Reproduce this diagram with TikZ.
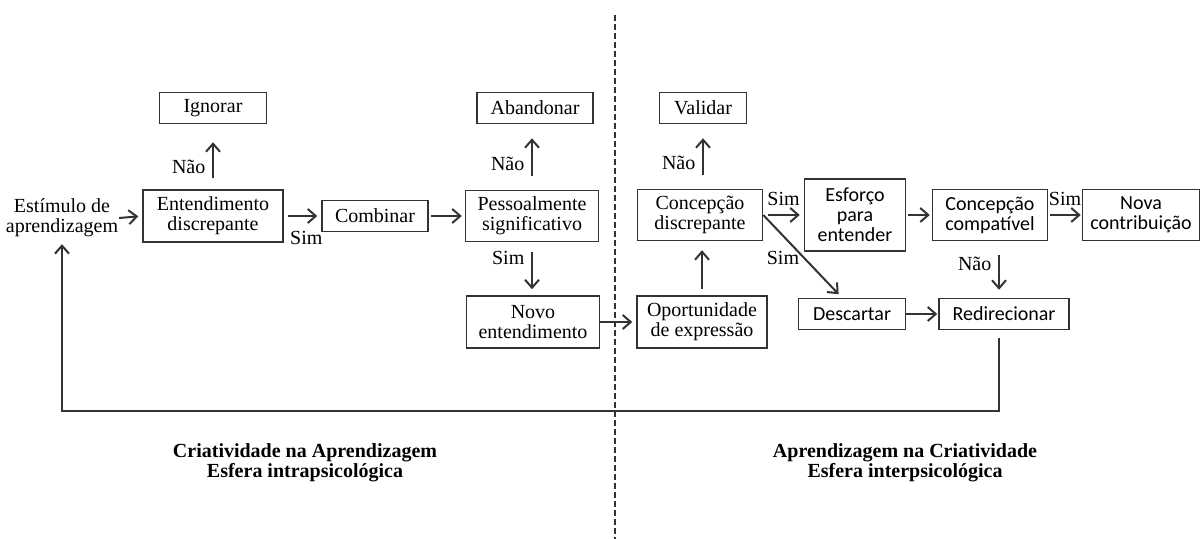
\documentclass[tikz,border=0pt]{standalone}
\usepackage{fontspec}
\setmainfont{Liberation Serif}
\newfontfamily\calfont{Carlito}
\usetikzlibrary{arrows.meta,positioning}
\definecolor{cB}{HTML}{333333}
\tikzset{
  sz/.style 2 args={minimum width=#1,minimum height=#2},
  box/.style={draw=cB,line width=.75pt,inner sep=0pt,align=center,
              font=\fontsize{10}{10}\selectfont},
  sbox/.style={box,font=\calfont\fontsize{10}{10}\selectfont},
  flow/.style={-{Straight Barb[length=4pt,width=7pt,line width=1pt]},
              line width=1pt,cB},
  lab/.style={font=\fontsize{10}{10}\selectfont,text=black,align=center},
  sphere/.style={font=\bfseries\fontsize{10}{10}\selectfont,align=center},
}

\begin{document}
\begin{tikzpicture}[x=0.5pt,y=-0.5pt]
  \useasboundingbox (0,0) rectangle (1202,539);
  % intrapsychological side
  \node[lab] (stim) at (62,218) {Estímulo de\\aprendizagem};
  \node[box,sz={70pt}{26pt}] (ent) at (213,216) {Entendimento\\discrepante};
  \node[box,sz={53.5pt}{15.5pt}] (ign) at (213,108) {Ignorar};
  \node[box,sz={53pt}{15.5pt}] (comb) at (375,216) {Combinar};
  \node[box,sz={66.5pt}{25.5pt}] (pess) at (532,216) {Pessoalmente\\significativo};
  \node[box,sz={58pt}{15.5pt}] (aban) at (535,108) {Abandonar};
  \node[box,sz={66.5pt}{26pt}] (novo) at (533,322) {Novo\\entendimento};
  % interpsychological side
  \node[box,sz={43.5pt}{15.5pt}] (val) at (703,108) {Validar};
  \node[box,sz={62.5pt}{25.5pt}] (cdis) at (700,215) {Concepção\\discrepante};
  \node[box,sz={65pt}{26pt}] (oport) at (702,322) {Oportunidade\\de expressão};
  \node[sbox,sz={50.5pt}{36pt}] (esf) at (855,215) {Esforço\\para\\entender};
  \node[sbox,sz={57.5pt}{25.5pt}] (ccomp) at (990,215) {Concepção\\compatível};
  \node[sbox,sz={58.5pt}{25.5pt}] (nova) at (1141,215) {Nova\\contribuição};
  \node[sbox,sz={53.5pt}{15.5pt}] (desc) at (852,314) {Descartar};
  \node[sbox,sz={65pt}{15.5pt}] (redir) at (1004,314) {Redirecionar};

  \draw[flow,shorten >=2pt] ([xshift=-3pt]stim.east) -- (ent.west);
  \draw[flow,shorten <=5.5pt,shorten >=9pt] (ent) -- (ign)
     node[lab,pos=.35,left]{Não};
  \draw[flow,shorten <=2pt,shorten >=2pt] (ent) -- (comb)
     node[lab,pos=.6,below=4pt]{Sim};
  \draw[flow,shorten <=1pt,shorten >=1.5pt] (comb) -- (pess);
  \draw[flow,shorten <=7pt,shorten >=7pt] (pess.north) -- (pess.north |- aban.south)
     node[lab,pos=.4,left]{Não};
  \draw[flow,shorten <=5pt,shorten >=3pt] (pess.south) -- (pess.south |- novo.north)
     node[lab,pos=.3,left]{Sim};
  \draw[flow,shorten >=2pt] (novo) -- (oport);
  \draw[flow,shorten <=3pt,shorten >=4.5pt] (oport.north) -- (oport.north |- cdis.south);
  \draw[flow,shorten <=7pt,shorten >=7pt] (val.south |- cdis.north) -- (val.south)
     node[lab,pos=.4,left]{Não};
  \draw[flow,shorten <=2.5pt,shorten >=2pt] (cdis) -- (esf)
     node[lab,pos=.5,above=1pt]{Sim};
  \draw[flow,shorten >=2.5pt] (cdis.east) -- ([xshift=-5pt]desc.north)
     node[lab,pos=.25,below=4pt]{Sim};
  \draw[flow,shorten <=1pt,shorten >=1pt] (esf) -- (ccomp);
  \draw[flow,shorten <=1pt,shorten >=.5pt] (ccomp) -- (nova)
     node[lab,pos=.5,above=1pt]{Sim};
  \draw[flow,shorten <=7pt,shorten >=4pt] ([xshift=4.5pt]ccomp.south) -- ([xshift=-2.5pt]redir.north)
     node[lab,pos=.4,left]{Não};
  \draw[flow,shorten >=.5pt] (desc) -- (redir);
  % back to the start
  \coordinate (fb) at (62,411);
  \draw[flow,shorten <=4pt] ([xshift=-2.5pt]redir.south) |- (fb) -- (stim.south);

  \draw[cB,line width=.6pt,dash pattern=on 3pt off 1.5pt] (615,15) -- (615,539);
  \node[sphere] (intra) at (305,463) {Criatividade na Aprendizagem\\Esfera intrapsicológica};
  \node[sphere] (inter) at (905,463) {Aprendizagem na Criatividade\\Esfera interpsicológica};
\end{tikzpicture}
\end{document}
